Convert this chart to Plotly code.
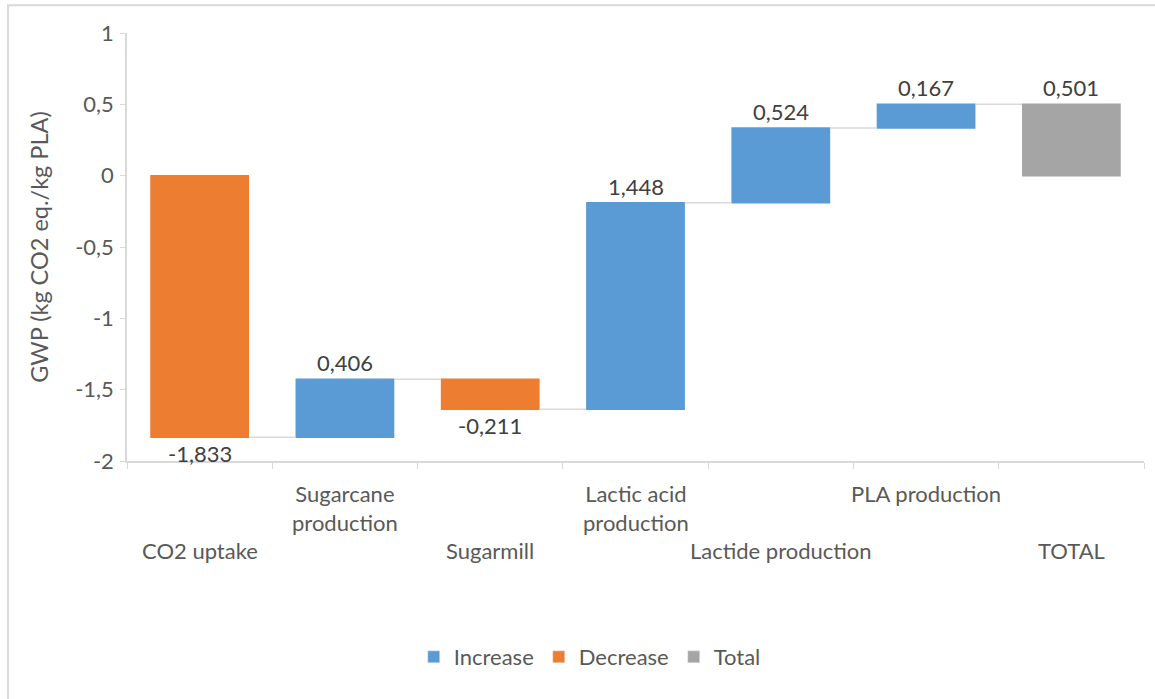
import plotly.graph_objects as go

categories = ["CO2 uptake", "Sugarcane production", "Sugarmill", "Lactic acid production",
              "Lactide production", "PLA production", "TOTAL"]
values = [-1.833, 0.406, -0.211, 1.448, 0.524, 0.167, 0.501]
measures = ["relative", "relative", "relative", "relative", "relative", "relative", "total"]
value_labels = ["-1,833", "0,406", "-0,211", "1,448", "0,524", "0,167", "0,501"]
cat_label_text = ["CO2 uptake", "Sugarcane<br>production", "Sugarmill", "Lactic acid<br>production",
                  "Lactide production", "PLA production", "TOTAL"]
cat_label_row = [2, 1, 2, 1, 2, 1, 2]
y_tickvals = [-2, -1.5, -1, -0.5, 0, 0.5, 1]
y_ticktext = ["-2", "-1,5", "-1", "-0,5", "0", "0,5", "1"]
legend_names = ["Increase", "Decrease", "Total"]

C_INC = "#5B9BD5"
C_DEC = "#ED7D31"
C_TOT = "#A5A5A5"
FONT = "Lato"
TXT = "#595959"
AXC = "#D9D9D9"
FS = 22

fig = go.Figure()
fig.add_trace(go.Waterfall(
    x=categories, y=values, measure=measures,
    textinfo="none",
    increasing=dict(marker=dict(color=C_INC)),
    decreasing=dict(marker=dict(color=C_DEC)),
    totals=dict(marker=dict(color=C_TOT)),
    connector=dict(line=dict(color=AXC, width=1.5)),
    showlegend=False,
))
for name, col in zip(legend_names, [C_INC, C_DEC, C_TOT]):
    fig.add_trace(go.Bar(x=[None], y=[None], name=name, marker_color=col))

annotations = []
# value labels at bar ends (computed from the running sum of the data)
running = 0.0
for cat, v, m, lab in zip(categories, values, measures, value_labels):
    if m == "total":
        end = running
        pos = end >= 0
    else:
        running += v
        end = running
        pos = v >= 0
    annotations.append(dict(x=cat, xref="x", y=end, yref="y",
                            yanchor="bottom" if pos else "top",
                            yshift=1 if pos else -1,
                            text=lab, showarrow=False,
                            font=dict(family=FONT, size=FS, color="#404040")))

for cat, txt, row in zip(categories, cat_label_text, cat_label_row):
    if row == 1:
        annotations.append(dict(x=cat, xref="x", y=-0.040, yref="paper", yanchor="top",
                                text=txt, showarrow=False,
                                font=dict(family=FONT, size=FS, color=TXT)))
    else:
        annotations.append(dict(x=cat, xref="x", y=-0.21, yref="paper", yanchor="middle",
                                text=txt, showarrow=False,
                                font=dict(family=FONT, size=FS, color=TXT)))

fig.update_layout(
    width=1155, height=699,
    margin=dict(l=127, r=11, t=33, b=238),
    paper_bgcolor="white", plot_bgcolor="white",
    waterfallgap=0.32, barmode="overlay",
    font=dict(family=FONT, size=FS, color=TXT),
    legend=dict(orientation="h", x=0.455, xanchor="center", y=-0.458, yanchor="middle",
                font=dict(family=FONT, size=FS, color=TXT)),
    annotations=annotations,
    shapes=[dict(type="rect", xref="paper", yref="paper", x0=-0.117, x1=1.05, y0=-0.6, y1=1.065,
                 line=dict(color="#D9D9D9", width=2), fillcolor="rgba(0,0,0,0)", layer="below")],
)
fig.update_xaxes(type="category", showticklabels=False, showline=True, linecolor=AXC, linewidth=1.5,
                 ticks="outside", tickson="boundaries", ticklen=6, tickcolor=AXC, showgrid=False,
                 zeroline=False)
fig.update_yaxes(range=[-2, 1], tickvals=y_tickvals, ticktext=y_ticktext, showline=True,
                 linecolor=AXC, linewidth=1.5, ticks="outside", ticklen=5, tickcolor=AXC,
                 showgrid=False, zeroline=False, ticklabelstandoff=2,
                 tickfont=dict(family=FONT, size=FS, color=TXT),
                 title=dict(text="GWP (kg CO2 eq./kg PLA)", standoff=20,
                            font=dict(family=FONT, size=23.5, color=TXT)))

fig.write_html("out.html")
